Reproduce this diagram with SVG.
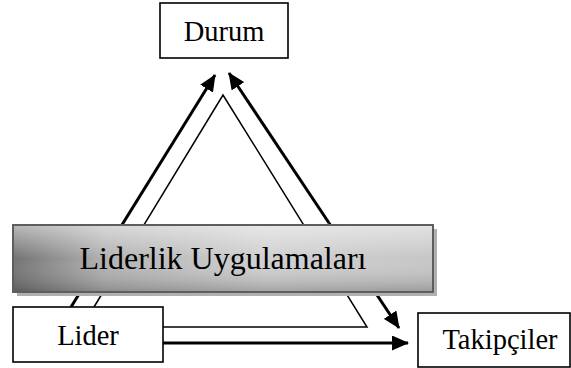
<svg xmlns="http://www.w3.org/2000/svg" width="571" height="368" viewBox="0 0 571 368">
<style>
.box{fill:#fff;stroke:#000;stroke-width:1.6}
.lbl{font-family:"Liberation Serif","Times New Roman",serif;font-size:28.5px;fill:#000;text-anchor:middle}
.big{font-family:"Liberation Serif","Times New Roman",serif;font-size:32px;fill:#000;text-anchor:middle}
.thick{fill:none;stroke:#000;stroke-width:3}
.thin{fill:none;stroke:#000;stroke-width:1.5;stroke-linejoin:miter}
</style>
<defs>
<marker id="ah" markerUnits="userSpaceOnUse" markerWidth="17" markerHeight="15" refX="16" refY="7.5" orient="auto">
<path d="M0,0 L17,7.5 L0,15 z" fill="#000"/>
</marker>
<linearGradient id="gh" x1="0" y1="0" x2="1" y2="0">
<stop offset="0" stop-color="#737373"/>
<stop offset="0.22" stop-color="#b2b2b2"/>
<stop offset="0.6" stop-color="#d0d0d0"/>
<stop offset="1" stop-color="#c6c6c6"/>
</linearGradient>
<linearGradient id="gv" x1="0" y1="0" x2="0" y2="1">
<stop offset="0" stop-color="#fff" stop-opacity="0.5"/>
<stop offset="0.5" stop-color="#fff" stop-opacity="0"/>
<stop offset="1" stop-color="#000" stop-opacity="0.22"/>
</linearGradient>
</defs>
<g id="connectors">
<path class="thick" d="M71,307 L215,75" marker-end="url(#ah)"/>
<path class="thin" d="M94,307 L223,95 L367,327 L163,327"/>
<path class="thick" d="M329,223 L229,73" marker-end="url(#ah)"/>
<path class="thick" d="M329,223 L399,328" marker-end="url(#ah)"/>
<path class="thick" d="M163,343 L408,343" marker-end="url(#ah)"/>
</g>
<g id="durum">
<rect class="box" x="160" y="3" width="128" height="55"/>
<text class="lbl" x="224" y="41">Durum</text>
</g>
<g id="lider">
<rect class="box" x="13" y="307" width="150" height="55"/>
<text class="lbl" x="88" y="345">Lider</text>
</g>
<g id="takipciler">
<rect class="box" x="418" y="313" width="152" height="54"/>
<text class="lbl" x="500" y="349">Takipçiler</text>
</g>
<g id="liderlik-uygulamalari">
<rect x="17" y="229" width="420" height="67" fill="#b0b0b0"/>
<rect x="13" y="225" width="420" height="67" fill="url(#gh)"/>
<rect x="13" y="225" width="420" height="67" fill="url(#gv)" stroke="#5e5e5e" stroke-width="2"/>
<text class="big" x="223" y="269">Liderlik Uygulamaları</text>
</g>
</svg>
